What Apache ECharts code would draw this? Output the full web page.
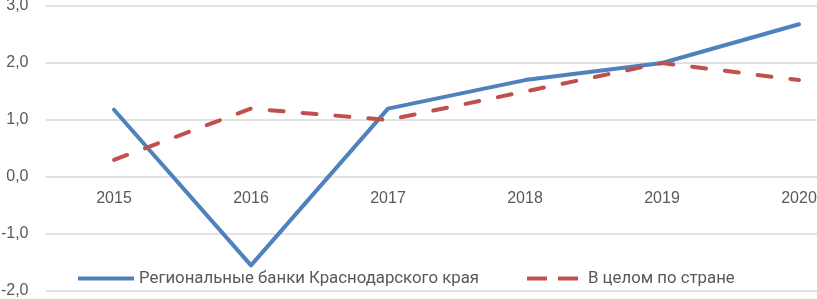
<!DOCTYPE html>
<html>
<head>
<meta charset="utf-8">
<script src="https://cdn.jsdelivr.net/npm/echarts@6/dist/echarts.min.js"></script>
<style>
html,body{margin:0;padding:0;background:#fff;}
#chart{width:817px;height:299px;}
</style>
</head>
<body>
<div id="chart"></div>
<script>
const categories = ['2015', '2016', '2017', '2018', '2019', '2020'];
const regionalBanks = [1.18, -1.55, 1.2, 1.7, 2.0, 2.68];
const countryTotal = [0.3, 1.2, 1.0, 1.5, 2.0, 1.7];
const seriesNames = ['Региональные банки Краснодарского края', 'В целом по стране'];

const legendText = {fontFamily: 'Roboto', fontSize: 16.8, color: '#595959'};
const chart = echarts.init(document.getElementById('chart'), null, {renderer: 'canvas'});
chart.setOption({
  animation: false,
  backgroundColor: '#ffffff',
  grid: {left: 45.5, width: 822, top: 6, bottom: 8, containLabel: false, outerBoundsMode: 'none'},
  legend: [
    {
      left: 78, top: 270, itemWidth: 56, itemHeight: 4, padding: 0,
      textStyle: legendText,
      data: [{name: seriesNames[0], icon: 'path://M0,0h56v4h-56z'}]
    },
    {
      left: 527, top: 270, itemWidth: 56, itemHeight: 4, padding: 0,
      textStyle: legendText,
      data: [{name: seriesNames[1], icon: 'path://M0,0h20v4h-20zM31,0h20v4h-20zM55.95,0h0.05v4h-0.05z'}]
    }
  ],
  xAxis: {
    type: 'category',
    data: categories,
    boundaryGap: true,
    position: 'bottom',
    offset: -114,
    axisLine: {show: false, onZero: false},
    axisTick: {show: false},
    axisLabel: {margin: 14, fontFamily: 'Liberation Sans', fontSize: 16, color: '#595959'},
    splitLine: {show: false}
  },
  yAxis: {
    type: 'value',
    min: -2, max: 3, interval: 1,
    axisLine: {show: false},
    axisTick: {show: false},
    axisLabel: {
      margin: 17, fontFamily: 'Liberation Sans', fontSize: 16, color: '#595959',
      formatter: v => v.toFixed(1).replace('.', ',')
    },
    splitLine: {lineStyle: {color: '#d9d9d9', width: 1.5}}
  },
  series: [
    {
      name: seriesNames[0], type: 'line', data: regionalBanks,
      symbol: 'none', smooth: false,
      itemStyle: {color: '#4F81BD'},
      lineStyle: {color: '#4F81BD', width: 4, cap: 'round', join: 'round'},
      z: 2
    },
    {
      name: seriesNames[1], type: 'line', data: countryTotal,
      symbol: 'none', smooth: false,
      itemStyle: {color: '#C0504D'},
      lineStyle: {color: '#C0504D', width: 4, type: [14, 19], cap: 'round', join: 'round'},
      z: 3
    }
  ]
});
</script>
</body>
</html>
